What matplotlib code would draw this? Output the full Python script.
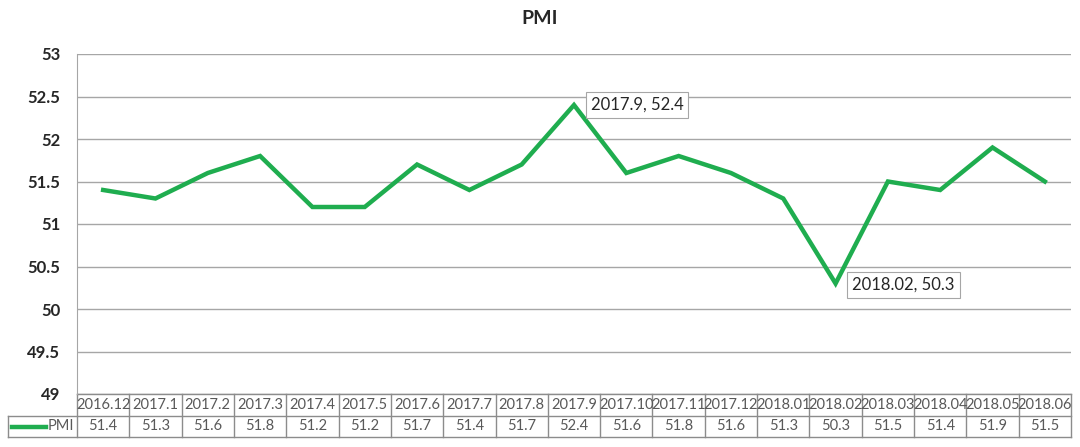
import matplotlib.pyplot as plt
import matplotlib.transforms as mtransforms
from matplotlib.lines import Line2D

# datos
meses = ['2016.12', '2017.1', '2017.2', '2017.3', '2017.4', '2017.5', '2017.6',
         '2017.7', '2017.8', '2017.9', '2017.10', '2017.11', '2017.12',
         '2018.01', '2018.02', '2018.03', '2018.04', '2018.05', '2018.06']
pmi = [51.4, 51.3, 51.6, 51.8, 51.2, 51.2, 51.7, 51.4, 51.7, 52.4,
       51.6, 51.8, 51.6, 51.3, 50.3, 51.5, 51.4, 51.9, 51.5]
y_ticks = [49, 49.5, 50, 50.5, 51, 51.5, 52, 52.5, 53]
y_labels = ['49', '49.5', '50', '50.5', '51', '51.5', '52', '52.5', '53']

plt.rcParams['font.family'] = ['Lato', 'DejaVu Sans']

verde = '#1fad4f'
gris_txt = '#595959'
gris_lin = '#8c8c8c'

W, H = 1080, 447
fig = plt.figure(figsize=(W / 100, H / 100), dpi=100)
ax = fig.add_axes([77 / W, 1 - 394 / H, (1071 - 77) / W, 340 / H])

x = list(range(len(meses)))
ax.plot(x, pmi, color=verde, linewidth=3.2, solid_joinstyle='miter', zorder=5)

ax.set_xlim(-0.5, len(meses) - 0.5)
ax.set_ylim(49, 53)
ax.set_yticks(y_ticks)
ax.set_yticklabels(y_labels, fontsize=12, fontweight='bold', color='#262626')
ax.set_xticks([])
ax.tick_params(axis='y', length=0, pad=12)
ax.grid(axis='y', color='#a6a6a6', linewidth=1.0)
for lado in ['top', 'right', 'bottom']:
    ax.spines[lado].set_visible(False)
ax.spines['left'].set_color('#a6a6a6')

fig.text(0.5, 1 - 18 / H, 'PMI', ha='center', va='center',
         fontsize=14, fontweight='bold', color='#262626')

# etiquetas de los puntos
for idx, dy in [(9, 0), (14, 1)]:
    ax.annotate(f'{meses[idx]}, {pmi[idx]}', xy=(x[idx], pmi[idx]),
                xytext=(12, -dy), textcoords='offset points',
                ha='left', va='center', fontsize=12, color='#262626',
                bbox=dict(boxstyle='square,pad=0.3', fc='white', ec='#a6a6a6', lw=0.8),
                zorder=6)

# tabla de datos
trans = mtransforms.blended_transform_factory(ax.transData, ax.transAxes)
h1 = -22 / 340
h2 = -43 / 340
col_w = (1071 - 77) / len(meses)
x_izq = (8 - 77) / col_w - 0.5
x_der = len(meses) - 0.5

lineas = [
    ([-0.5, x_der], [0, 0]),
    ([x_izq, x_der], [h1, h1]),
    ([x_izq, x_der], [h2, h2]),
    ([x_izq, x_izq], [h1, h2]),
]
for i in range(len(meses) + 1):
    lineas.append(([i - 0.5, i - 0.5], [0, h2]))
for xs, ys in lineas:
    ax.add_line(Line2D(xs, ys, transform=trans, color=gris_lin, lw=1.0, clip_on=False))

for i, (m, v) in enumerate(zip(meses, pmi)):
    ax.text(i, h1 / 2, m, transform=trans, ha='center', va='center',
            fontsize=10.5, color=gris_txt)
    ax.text(i, (h1 + h2) / 2, f'{v}', transform=trans, ha='center', va='center',
            fontsize=10.5, color=gris_txt)

# clave de la leyenda
kx0 = (12 - 77) / col_w - 0.5
kx1 = (46 - 77) / col_w - 0.5
ax.add_line(Line2D([kx0, kx1], [(h1 + h2) / 2] * 2, transform=trans, color=verde,
                   lw=3.2, clip_on=False))
ax.text(-0.5 - 3 / col_w, (h1 + h2) / 2, 'PMI', transform=trans, ha='right',
        va='center', fontsize=10.5, color=gris_txt)

fig.savefig('out.png', dpi=100, facecolor='white')
